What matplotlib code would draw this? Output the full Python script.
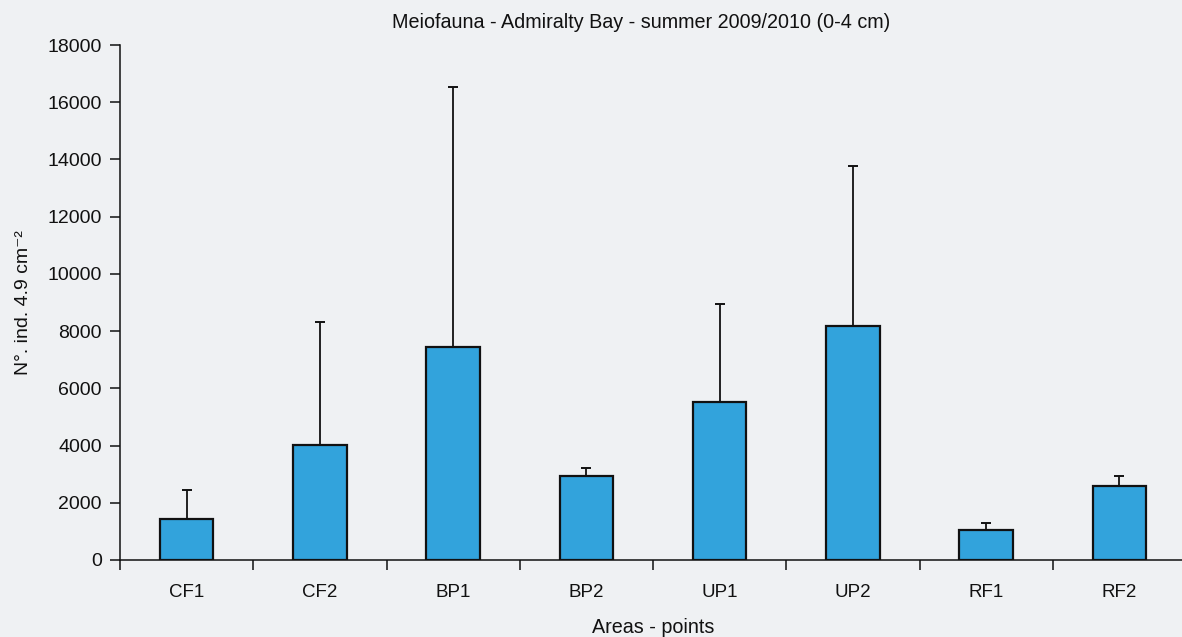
import matplotlib
matplotlib.use("Agg")
import matplotlib.pyplot as plt
import numpy as np

# meiofauna density per sampling point, mean and upper error (SD)
points = ['CF1', 'CF2', 'BP1', 'BP2', 'UP1', 'UP2', 'RF1', 'RF2']
means = [1420, 4010, 7430, 2935, 5525, 8170, 1040, 2575]
errors = [1040, 4310, 9110, 280, 3425, 5600, 265, 360]

plt.rcParams['font.family'] = ['Liberation Sans', 'DejaVu Sans']

bg = '#eff1f3'
fig = plt.figure(figsize=(11.82, 6.37), dpi=100, facecolor=bg)
ax = fig.add_axes([120 / 1182, 77 / 637, 1066 / 1182, 515 / 637])
ax.set_facecolor(bg)

x = np.arange(len(points))
ax.bar(x, means, width=0.4, color='#32a3dc', edgecolor='#111111', linewidth=1.6, zorder=3)
ax.errorbar(x, means, yerr=[np.zeros(len(errors)), errors], fmt='none',
            ecolor='#111111', elinewidth=1.3, capsize=3.7, capthick=1.4, zorder=2)

ax.set_xlim(-0.5, len(points) - 0.5)
ax.set_ylim(0, 18000)
ax.set_yticks(range(0, 18001, 2000))
ax.set_xticks(x)
ax.set_xticklabels(points)
ax.set_xticks(np.arange(-0.5, len(points), 1.0), minor=True)

for s in ['top', 'right']:
    ax.spines[s].set_visible(False)
for s in ['left', 'bottom']:
    ax.spines[s].set_linewidth(1.1)
    ax.spines[s].set_color('#111111')

ax.tick_params(axis='y', length=7, width=1.1, labelsize=14, pad=6, colors='#111111')
ax.tick_params(axis='x', which='major', length=0, labelsize=13.5, pad=17, colors='#111111')
ax.tick_params(axis='x', which='minor', length=7, width=1.1, color='#111111')

fig.text(641 / 1182, 1 - 22 / 637, 'Meiofauna - Admiralty Bay - summer 2009/2010 (0-4 cm)',
         fontsize=14.2, ha='center', va='center', color='#111111')
ax.set_xlabel('Areas - points', fontsize=14.2, color='#111111')
ax.set_ylabel('N°. ind. 4.9 cm⁻²', fontsize=14, color='#111111')
ax.yaxis.set_label_coords(-0.083, 0.5)
ax.xaxis.set_label_coords(0.5, -0.112)

fig.savefig('out.png', dpi=100, facecolor=bg)
